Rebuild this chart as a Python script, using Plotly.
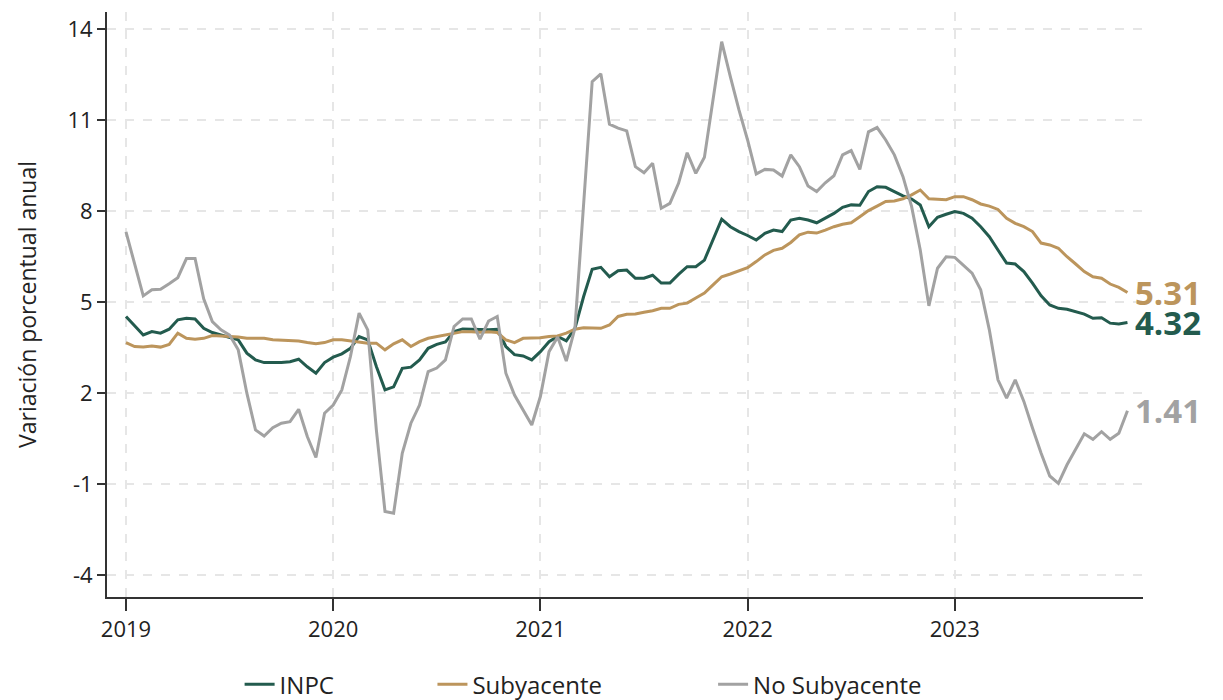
import plotly.graph_objects as go

# quincenas desde 1Q enero 2019 hasta 1Q noviembre 2023
meses = ['Ene', 'Feb', 'Mar', 'Abr', 'May', 'Jun', 'Jul', 'Ago', 'Sep', 'Oct', 'Nov', 'Dic']
quincenas = []
for anio in range(2019, 2024):
    for mes in meses:
        for q in ('1Q', '2Q'):
            quincenas.append(f'{q} {mes} {anio}')
quincenas = quincenas[:117]

anios_ticks = ['1Q Ene 2019', '1Q Ene 2020', '1Q Ene 2021', '1Q Ene 2022', '1Q Ene 2023']
anios_texto = ['2019', '2020', '2021', '2022', '2023']
y_ticks = [-4, -1, 2, 5, 8, 11, 14]
y_texto = ['-4', '-1', '2', '5', '8', '11', '14']

inpc = [4.52, 4.20, 3.91, 4.02, 3.97, 4.10, 4.41, 4.46, 4.44, 4.13, 3.99, 3.91,
        3.84, 3.75, 3.31, 3.09, 3.00, 2.99, 3.00, 3.03, 3.11, 2.86, 2.65, 3.00,
        3.18, 3.29, 3.47, 3.86, 3.75, 2.87, 2.10, 2.20, 2.81, 2.85, 3.09, 3.47,
        3.60, 3.68, 4.02, 4.11, 4.10, 4.08, 4.08, 4.10, 3.53, 3.26, 3.22, 3.09,
        3.36, 3.69, 3.86, 3.72, 4.13, 5.17, 6.08, 6.14, 5.83, 6.03, 6.05, 5.78,
        5.78, 5.88, 5.62, 5.62, 5.91, 6.16, 6.16, 6.38, 7.07, 7.73, 7.48, 7.32,
        7.19, 7.04, 7.26, 7.37, 7.32, 7.70, 7.76, 7.70, 7.61, 7.76, 7.92, 8.12,
        8.20, 8.19, 8.64, 8.80, 8.78, 8.64, 8.50, 8.39, 8.20, 7.48, 7.79, 7.89,
        7.98, 7.92, 7.76, 7.48, 7.15, 6.71, 6.28, 6.25, 6.00, 5.62, 5.20, 4.90,
        4.79, 4.76, 4.68, 4.60, 4.46, 4.48, 4.30, 4.27, 4.32]

subyacente = [3.66, 3.53, 3.51, 3.55, 3.51, 3.60, 3.97, 3.80, 3.77, 3.80, 3.89, 3.88,
              3.86, 3.84, 3.80, 3.80, 3.80, 3.75, 3.73, 3.73, 3.71, 3.66, 3.62, 3.66,
              3.75, 3.75, 3.71, 3.66, 3.64, 3.64, 3.42, 3.62, 3.75, 3.53, 3.69, 3.80,
              3.86, 3.91, 3.97, 4.02, 4.02, 4.00, 4.02, 3.99, 3.75, 3.66, 3.80, 3.80,
              3.82, 3.86, 3.88, 3.97, 4.10, 4.15, 4.13, 4.13, 4.24, 4.52, 4.59, 4.60,
              4.66, 4.71, 4.79, 4.79, 4.92, 4.96, 5.13, 5.29, 5.56, 5.83, 5.92, 6.03,
              6.13, 6.33, 6.55, 6.70, 6.77, 6.96, 7.21, 7.30, 7.27, 7.37, 7.48, 7.56,
              7.61, 7.81, 8.01, 8.16, 8.31, 8.33, 8.40, 8.53, 8.69, 8.40, 8.39, 8.37,
              8.47, 8.47, 8.37, 8.23, 8.16, 8.05, 7.76, 7.59, 7.48, 7.32, 6.94, 6.88,
              6.77, 6.49, 6.25, 6.00, 5.83, 5.78, 5.59, 5.48, 5.31]

no_subyacente = [7.31, 6.25, 5.20, 5.40, 5.42, 5.60, 5.80, 6.43, 6.43, 5.10, 4.35, 4.08,
                 3.91, 3.42, 1.99, 0.78, 0.58, 0.85, 1.00, 1.05, 1.46, 0.56, -0.13, 1.33,
                 1.60, 2.10, 3.20, 4.63, 4.08, 0.78, -1.91, -1.97, 0.01, 1.00, 1.60, 2.70,
                 2.82, 3.09, 4.19, 4.44, 4.44, 3.77, 4.37, 4.52, 2.65, 1.93, 1.44, 0.94,
                 1.88, 3.36, 3.84, 3.05, 4.13, 8.30, 12.26, 12.52, 10.86, 10.73, 10.64, 9.46,
                 9.26, 9.57, 8.09, 8.25, 8.91, 9.92, 9.24, 9.77, 11.66, 13.58, 12.43, 11.33,
                 10.34, 9.22, 9.37, 9.35, 9.15, 9.85, 9.46, 8.82, 8.64, 8.93, 9.16, 9.85,
                 9.99, 9.37, 10.61, 10.75, 10.34, 9.85, 9.13, 8.14, 6.71, 4.87, 6.11, 6.49,
                 6.47, 6.22, 5.95, 5.40, 4.08, 2.43, 1.83, 2.43, 1.72, 0.84, 0.01, -0.74,
                 -0.98, -0.37, 0.14, 0.65, 0.47, 0.72, 0.47, 0.67, 1.41]

series = [('INPC', inpc, '#235B4E', 15),
          ('Subyacente', subyacente, '#BC955C', 17),
          ('No Subyacente', no_subyacente, '#A2A2A2', 0)]

fig = go.Figure()
for nombre, valores, color, hueco in series:
    # espacios duros para separar los elementos de la leyenda
    fig.add_trace(go.Scatter(x=quincenas, y=valores, name=nombre + '\u00a0' * hueco, mode='lines',
                             line=dict(color=color, width=3)))
    # etiqueta del ultimo valor
    fig.add_annotation(x=quincenas[-1], y=valores[-1], text=f'<b>{valores[-1]:.2f}</b>',
                       showarrow=False, xanchor='left', yanchor='middle', xshift=6,
                       font=dict(size=33, color=color, family='Open Sans'))

fig.update_xaxes(type='category', range=[-2.2, 117.8],
                 tickvals=anios_ticks, ticktext=anios_texto,
                 showline=True, linecolor='#333333', linewidth=2,
                 ticks='outside', ticklen=12, tickwidth=1.5, tickcolor='#333333',
                 showgrid=True, gridcolor='#e6e6e6', gridwidth=1.5, griddash='dash',
                 tickfont=dict(size=22, color='#222222'), zeroline=False, automargin=False)
fig.update_yaxes(range=[-4.73, 14.56], tickvals=y_ticks, ticktext=y_texto,
                 title_text='Variación porcentual anual',
                 title_font=dict(size=23, color='#222222'), title_standoff=24,
                 showline=True, linecolor='#333333', linewidth=2,
                 ticks='outside', ticklen=8, tickwidth=1.5, tickcolor='#333333',
                 showgrid=True, gridcolor='#e6e6e6', gridwidth=1.5, griddash='dash',
                 tickfont=dict(size=22, color='#222222'), zeroline=False, automargin=False)

# la pagina deja 8 px de margen, por eso la figura mide 1215x692
fig.update_layout(width=1215, height=692, plot_bgcolor='white', paper_bgcolor='white',
                  font=dict(family='Open Sans', color='#222222'),
                  margin=dict(l=99, r=80, t=4, b=103, autoexpand=False),
                  legend=dict(orientation='h', x=0.128, xanchor='left', y=-0.15, yanchor='middle',
                              font=dict(size=24), tracegroupgap=0))

fig.write_html('out.html')
